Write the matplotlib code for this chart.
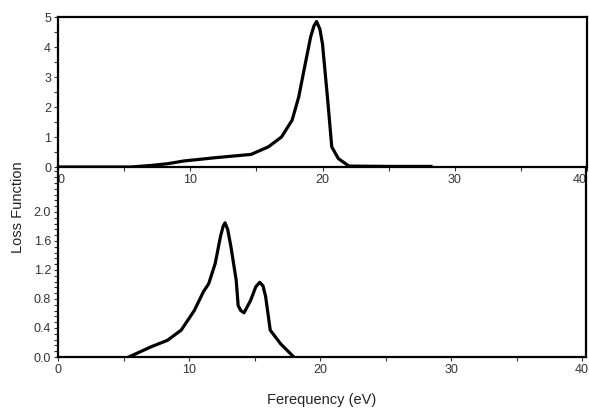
import numpy as np
import matplotlib.pyplot as plt
from matplotlib.ticker import MultipleLocator

plt.rcParams['font.family'] = ['Liberation Sans', 'DejaVu Sans']

# top panel: loss function (eV, value)
top_e = [0, 5.5, 7.0, 8.3, 9.5, 11.9, 14.6, 15.9, 16.9, 17.7, 18.2, 18.7,
         19.1, 19.35, 19.55, 19.8, 20.0, 20.4, 20.7, 21.2, 22.0, 25.0, 28.2]
top_l = [0, 0, 0.05, 0.11, 0.2, 0.31, 0.42, 0.67, 1.0, 1.56, 2.33, 3.45,
         4.33, 4.7, 4.85, 4.6, 4.1, 2.2, 0.67, 0.28, 0.03, 0.02, 0.02]

# bottom panel
bot_e = [5.4, 7.1, 8.35, 9.4, 10.4, 11.1, 11.5, 12.0, 12.4, 12.6, 12.75,
         12.95, 13.2, 13.6, 13.75, 13.95, 14.2, 14.7, 15.1, 15.4, 15.65,
         15.85, 16.2, 17.0, 18.0]
bot_l = [0, 0.14, 0.23, 0.37, 0.64, 0.9, 1.01, 1.29, 1.66, 1.8, 1.85,
         1.76, 1.52, 1.06, 0.71, 0.64, 0.61, 0.78, 0.97, 1.03, 0.98,
         0.83, 0.37, 0.18, 0.0]

xticks = [0, 10, 20, 30, 40]
xlabels = ['0', '10', '20', '30', '40']

fig = plt.figure(figsize=(5.89, 4.12), dpi=100)
ax1 = fig.add_axes([58/589, 245/412, 529/589, 150/412])
ax2 = fig.add_axes([58/589, 55/412, 528/589, 190/412])

lw = 2.3
ax1.plot(top_e, top_l, 'k', lw=lw, solid_joinstyle='round')
ax2.plot(bot_e, bot_l, 'k', lw=lw, solid_joinstyle='round')

ax1.set_xlim(0, 40)
ax1.set_ylim(0, 5)
ax2.set_xlim(0, 40.3)
ax2.set_ylim(0, 2.62)

for ax in (ax1, ax2):
    for s in ax.spines.values():
        s.set_linewidth(1.6)
    ax.set_xticks(xticks, xlabels)
    ax.xaxis.set_minor_locator(MultipleLocator(5))
    ax.tick_params(which='both', direction='out', length=3, width=0.8,
                   labelsize=9, pad=2, colors='#333333', labelcolor='#333333')
    ax.tick_params(which='minor', length=3)

ax1.yaxis.set_major_locator(MultipleLocator(1))
ax1.yaxis.set_minor_locator(MultipleLocator(0.5))
ax2.yaxis.set_minor_locator(MultipleLocator(0.08))
ax2.set_yticks([0, 0.4, 0.8, 1.2, 1.6, 2.0],
               ['0.0', '0.4', '0.8', '1.2', '1.6', '2.0'])
ax2.spines['top'].set_visible(False)
ax2.patch.set_alpha(0)

# end labels of the top panel sit inside the frame
for lab in ax1.get_xticklabels():
    if lab.get_text() == '40':
        lab.set_ha('right')
    elif lab.get_text() == '0':
        lab.set_ha('left')

fig.text(0.03, 205/412, 'Loss Function', rotation=90, va='center', ha='center',
         fontsize=10.5, color='#222222')
fig.text(322/589, 12/412, 'Ferequency (eV)', va='center', ha='center',
         fontsize=10.5, color='#222222')

fig.savefig('out.png', dpi=100)
